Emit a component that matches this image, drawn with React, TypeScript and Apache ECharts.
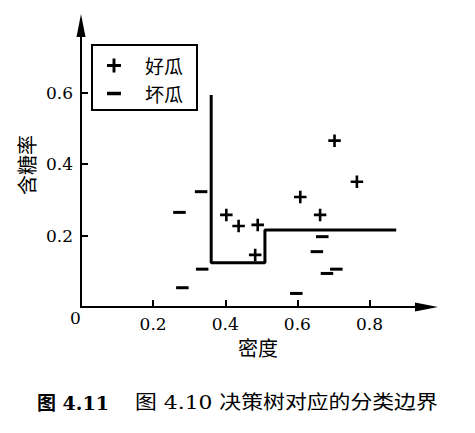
import React, { useEffect, useRef } from 'react';
import * as echarts from 'echarts';

// Data
const goodDensity = [0.703, 0.765, 0.608, 0.663, 0.403, 0.437, 0.49, 0.483];
const goodSugar = [0.466, 0.351, 0.308, 0.258, 0.258, 0.227, 0.23, 0.146];
const badDensity = [0.333, 0.273, 0.336, 0.281, 0.669, 0.654, 0.682, 0.708, 0.597];
const badSugar = [0.323, 0.265, 0.106, 0.054, 0.197, 0.155, 0.094, 0.106, 0.038];
const boundaryDensity = [0.361, 0.361, 0.51, 0.51, 0.874];
const boundarySugar = [0.594, 0.124, 0.124, 0.216, 0.216];
const xTicks = [0.2, 0.4, 0.6, 0.8];
const yTicks = [0.2, 0.4, 0.6];
const seriesNames = ['好瓜', '坏瓜'];
const xName = '密度';
const yName = '含糖率';
const originLabel = '0';
const captionNo = '图 4.11';
const captionText = '图 4.10 决策树对应的分类边界';

const PLUS = 'path://M4.75,0H7.25V4.75H12V7.25H7.25V12H4.75V7.25H0V4.75H4.75Z';
const MINUS = 'path://M0,0H12V3H0Z';

const SERIF = "'DejaVu Serif', 'Noto Sans CJK SC', serif";
const CJK = "'Noto Sans CJK SC', sans-serif";

export default function App() {
  const ref = useRef<HTMLDivElement>(null);

  useEffect(() => {
    if (!ref.current) return;
    const chart = echarts.init(ref.current, null, { renderer: 'svg' });
    const zip = (a: number[], b: number[]) => a.map((v, i) => [v, b[i]]);
    chart.setOption({
      animation: false,
      backgroundColor: '#fff',
      grid: { left: 81, right: 48.5, top: 25.5, bottom: 126, containLabel: false, outerBoundsMode: 'none' },
      legend: {
        orient: 'vertical',
        left: 92,
        top: 45,
        padding: [11, 14, 7, 15],
        itemGap: 9,
        itemWidth: 14,
        itemHeight: 14,
        borderColor: '#000',
        borderWidth: 2,
        borderRadius: 0,
        selectedMode: false,
        symbolKeepAspect: true,
        textStyle: { fontSize: 19, fontFamily: CJK, color: '#000', padding: [0, 0, 0, 19] },
        data: [
          { name: seriesNames[0], icon: PLUS },
          { name: seriesNames[1], icon: MINUS },
        ],
      },
      xAxis: {
        type: 'value',
        min: 0,
        max: 0.958,
        axisLine: {
          show: true,
          onZero: false,
          symbol: ['none', 'triangle'],
          symbolSize: [9, 23],
          lineStyle: { color: '#000', width: 2 },
        },
        axisTick: { show: true, inside: true, length: 7, customValues: xTicks, lineStyle: { color: '#000', width: 2 } },
        axisLabel: {
          customValues: xTicks,
          formatter: (v: number) => v.toFixed(1),
          margin: 8,
          fontSize: 17,
          fontFamily: SERIF,
          color: '#000',
        },
        splitLine: { show: false },
      },
      yAxis: {
        type: 'value',
        min: 0,
        max: 0.7885,
        axisLine: {
          show: true,
          onZero: false,
          symbol: ['none', 'triangle'],
          symbolSize: [9, 23],
          lineStyle: { color: '#000', width: 2 },
        },
        axisTick: { show: true, inside: true, length: 7, customValues: yTicks, lineStyle: { color: '#000', width: 2 } },
        axisLabel: {
          customValues: yTicks,
          formatter: (v: number) => v.toFixed(1),
          margin: 8,
          fontSize: 17,
          fontFamily: SERIF,
          color: '#000',
        },
        splitLine: { show: false },
      },
      series: [
        {
          name: 'boundary',
          type: 'line',
          data: zip(boundaryDensity, boundarySugar),
          symbol: 'none',
          lineStyle: { color: '#000', width: 3 },
          z: 1,
        },
        {
          name: seriesNames[0],
          type: 'scatter',
          data: zip(goodDensity, goodSugar),
          symbol: PLUS,
          symbolSize: 12.5,
          itemStyle: { color: '#000', opacity: 1 },
          z: 2,
        },
        {
          name: seriesNames[1],
          type: 'scatter',
          data: zip(badDensity, badSugar),
          symbol: MINUS,
          symbolSize: [12.5, 3],
          itemStyle: { color: '#000', opacity: 1 },
          z: 2,
        },
      ],
      graphic: [
        {
          type: 'text',
          x: 75.5,
          y: 318,
          style: { text: originLabel, fill: '#000', font: `17px ${SERIF}`, align: 'center', verticalAlign: 'middle' },
        },
        {
          type: 'text',
          x: 258,
          y: 347.5,
          style: { text: xName, fill: '#000', font: `20px ${CJK}`, align: 'center', verticalAlign: 'middle' },
        },
        {
          type: 'text',
          x: 26,
          y: 165,
          rotation: Math.PI / 2,
          style: { text: yName, fill: '#000', font: `20px ${CJK}`, align: 'center', verticalAlign: 'middle' },
        },
        {
          type: 'text',
          x: 37,
          y: 403,
          style: { text: captionNo, fill: '#000', font: `bold 19px ${SERIF}`, align: 'left', verticalAlign: 'middle' },
        },
        {
          type: 'text',
          x: 135,
          y: 403,
          scaleX: 1.15,
          style: { text: captionText, fill: '#000', font: `19px ${SERIF}`, align: 'left', verticalAlign: 'middle' },
        },
      ],
    });
    return () => chart.dispose();
  }, []);

  return (
    <div
      ref={ref}
      style={{ position: 'fixed', left: 0, top: 0, width: 475, height: 433 }}
    />
  );
}
